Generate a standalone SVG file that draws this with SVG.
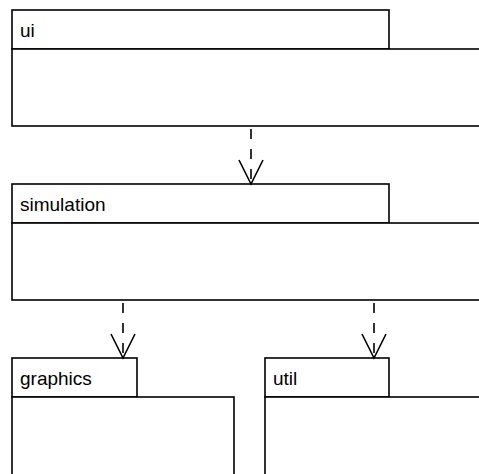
<svg xmlns="http://www.w3.org/2000/svg" width="479" height="474" viewBox="0 0 479 474">
<defs>
<style>
.box{fill:#fff;stroke:#000;stroke-width:1.6}
.lbl{font-family:"Liberation Sans",Arial,sans-serif;font-size:19px;fill:#000}
.dep{fill:none;stroke:#000;stroke-width:1.6;stroke-dasharray:10 10}
.head{fill:none;stroke:#000;stroke-width:1.6}
</style>
</defs>
<rect width="479" height="474" fill="#fff"/>
<g id="ui">
<rect class="box" x="12" y="10" width="377" height="39"/>
<rect class="box" x="12" y="49" width="480" height="77"/>
<text class="lbl" x="20" y="37">ui</text>
</g>
<g id="simulation">
<rect class="box" x="12" y="184" width="377" height="39"/>
<rect class="box" x="12" y="223" width="480" height="77"/>
<text class="lbl" x="20" y="211">simulation</text>
</g>
<g id="graphics">
<rect class="box" x="12" y="358" width="125" height="39"/>
<rect class="box" x="12" y="397" width="222" height="90"/>
<text class="lbl" x="20" y="385">graphics</text>
</g>
<g id="util">
<rect class="box" x="265" y="358" width="124" height="39"/>
<rect class="box" x="265" y="397" width="230" height="90"/>
<text class="lbl" x="273" y="385">util</text>
</g>
<g id="connectors">
<line class="dep" x1="251" y1="129" x2="251" y2="184"/>
<polyline class="head" points="239,160 251,184 263,160"/>
<line class="dep" x1="123" y1="303" x2="123" y2="358"/>
<polyline class="head" points="111,334 123,358 135,334"/>
<line class="dep" x1="374" y1="303" x2="374" y2="358"/>
<polyline class="head" points="362,334 374,358 386,334"/>
</g>
</svg>
